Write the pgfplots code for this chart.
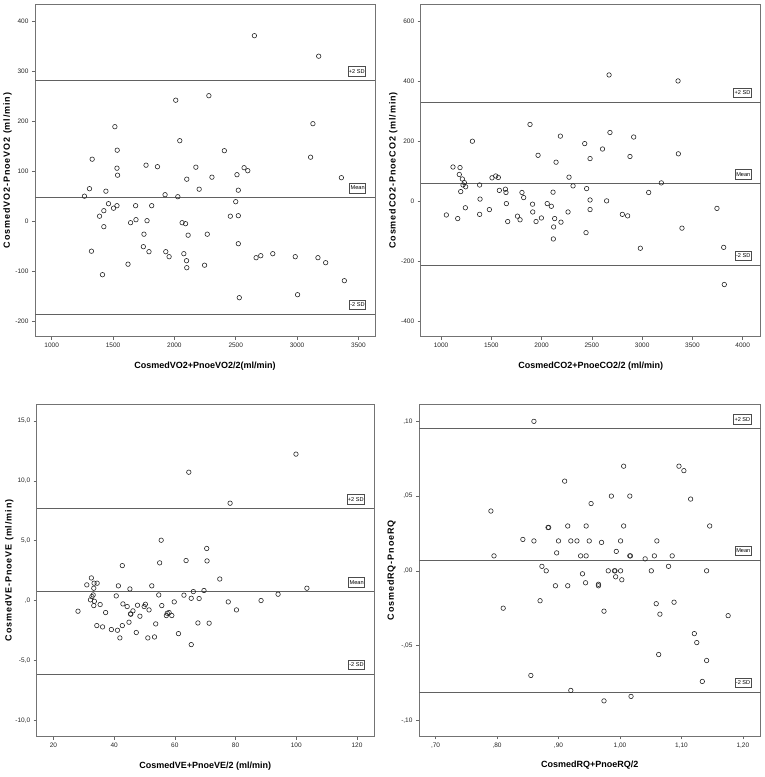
\documentclass[border=0pt]{standalone}
\usepackage{fontspec}
\setmainfont{Liberation Sans}
\newfontfamily\labfont[LetterSpace=10]{Liberation Sans}
\usepackage{pgfplots}
\pgfplotsset{compat=1.18}
\pgfplotsset{
  ba/.style={scale only axis, width=340pt, height=332.5pt,
    axis line style={draw=black!55, line width=0.7pt},
    tick align=outside, major tick length=3pt,
    xtick pos=bottom, ytick pos=left,
    tick style={draw=black!60, line width=0.5pt},
    ticklabel style={font=\fontsize{6.5}{7}\selectfont, text=black!85},
    xlabel style={font=\bfseries\fontsize{9}{10}\selectfont, at={(axis description cs:0.5,0)}, anchor=center, yshift=-29pt},
    ylabel style={font=\labfont\bfseries\fontsize{9}{10}\selectfont, at={(axis description cs:0,0.5)}, anchor=center, yshift=27.5pt},
  },
  sdline/.style={draw=black!62, line width=0.8pt, no marks, forget plot},
  pts/.style={only marks, mark=o, mark size=2.25pt, mark options={line width=0.6pt, draw=black!85}},
}
\tikzset{
  sdbox/.style={draw=black!70, fill=white, line width=0.4pt, inner xsep=1pt, inner ysep=0.5pt, minimum height=9.5pt,
    font=\fontsize{5.6}{6}\selectfont, anchor=south east, yshift=4.5pt},
}
\begin{document}
\begin{tikzpicture}
\useasboundingbox (0,0) rectangle (765pt,777pt);
% Panel 1
\begin{axis}[ba, at={(35pt,440.3pt)}, anchor=south west,
  xmin=864, xmax=3635, ymin=-231, ymax=434,
  xtick={1000,1500,2000,2500,3000,3500}, xticklabels={1000,1500,2000,2500,3000,3500},
  ytick={-200,-100,0,100,200,300,400}, yticklabels={-200,-100,0,100,200,300,400},
  xlabel={CosmedVO2+PnoeVO2/2(ml/min)}, ylabel={CosmedVO2-PnoeVO2 (ml/min)}]
\addplot[sdline] coordinates {(864,281) (3635,281)};
\addplot[sdline] coordinates {(864,47.5) (3635,47.5)};
\addplot[sdline] coordinates {(864,-186) (3635,-186)};
\addplot[pts] coordinates {
(2652,371) (3176,330) (2011,242) (2281,251) (1515,189) (3129,195) (1534,142) (2044,161)
(2407,141) (1330,124) (1769,112) (1862,109) (1532,106) (1537,92) (2175,108) (2101,84)
(2306,88) (2510,93) (2568,107) (2598,101) (3110,128) (3361,87) (1308,65) (1442,60)
(2202,64) (2521,62) (1267,50) (1924,53) (2028,49) (2500,39) (1463,35) (1532,31)
(1425,21) (1390,10) (1504,26) (1425,-11) (1684,31) (1643,-3) (1687,3) (1815,31)
(1777,1) (1752,-26) (1747,-51) (1793,-61) (1324,-60) (1622,-86) (1414,-107) (2063,-3)
(2091,-5) (2112,-28) (2077,-65) (1957,-71) (1930,-61) (2099,-79) (2101,-93) (2246,-88)
(2268,-26) (2456,10) (2521,11) (2521,-45) (2529,-153) (2666,-73) (2704,-69) (2802,-65)
(2985,-71) (3004,-147) (3170,-73) (3233,-83) (3385,-119)};
\node[sdbox] at ({rel axis cs:0.973,0}|-{axis cs:0,281}) {+2 SD};
\node[sdbox] at ({rel axis cs:0.973,0}|-{axis cs:0,47.5}) {Mean};
\node[sdbox] at ({rel axis cs:0.973,0}|-{axis cs:0,-186}) {-2 SD};
\end{axis}
% Panel 2
\begin{axis}[ba, at={(420.7pt,440.3pt)}, anchor=south west,
  xmin=798, xmax=4179, ymin=-452, ymax=657,
  xtick={1000,1500,2000,2500,3000,3500,4000}, xticklabels={1000,1500,2000,2500,3000,3500,4000},
  ytick={-400,-200,0,200,400,600}, yticklabels={-400,-200,0,200,400,600},
  xlabel={CosmedCO2+PnoeCO2/2 (ml/min)}, ylabel={CosmedCO2-PnoeCO2 (ml/min)}]
\addplot[sdline] coordinates {(798,330) (4179,330)};
\addplot[sdline] coordinates {(798,58.5) (4179,58.5)};
\addplot[sdline] coordinates {(798,-213) (4179,-213)};
\addplot[pts] coordinates {
(1053,-46) (1119,114) (1166,-58) (1189,112) (1182,89) (1212,74) (1232,62) (1219,54)
(1245,48) (1196,32) (1242,-22) (1312,200) (1384,54) (1384,-44) (1388,7) (1481,-28)
(1507,78) (1544,84) (1570,79) (1580,36) (1640,40) (1646,29) (1650,-8) (1663,-68)
(1760,-50) (1786,-62) (1805,29) (1822,12) (1885,256) (1910,-10) (1912,-36) (1945,-68)
(1965,153) (1998,-56) (2056,-8) (2097,-17) (2114,30) (2120,-86) (2117,-126) (2130,-58)
(2144,130) (2187,217) (2193,-70) (2263,-36) (2273,80) (2313,51) (2429,192) (2442,-105)
(2448,42) (2482,142) (2482,4) (2482,-28) (2606,174) (2647,1) (2671,421) (2680,229)
(2803,-44) (2856,-49) (2879,149) (2916,214) (2982,-157) (3065,29) (3191,61) (3357,401)
(3360,158) (3396,-90) (3744,-24) (3811,-154) (3817,-278)};
\node[sdbox] at ({rel axis cs:0.973,0}|-{axis cs:0,330}) {+2 SD};
\node[sdbox] at ({rel axis cs:0.973,0}|-{axis cs:0,58.5}) {Mean};
\node[sdbox] at ({rel axis cs:0.973,0}|-{axis cs:0,-213}) {-2 SD};
\end{axis}
% Panel 3
\begin{axis}[ba, at={(36.7pt,40.3pt)}, anchor=south west, width=337.3pt,
  xmin=14.5, xmax=125.6, ymin=-11.37, ymax=16.4,
  xtick={20,40,60,80,100,120}, xticklabels={20,40,60,80,100,120},
  ytick={-10,-5,0,5,10,15}, yticklabels={{-10,0},{-5,0},{,0},{5,0},{10,0},{15,0}},
  xlabel={CosmedVE+PnoeVE/2 (ml/min)}, ylabel={CosmedVE-PnoeVE (ml/min)}]
\addplot[sdline] coordinates {(14.5,7.66) (125.6,7.66)};
\addplot[sdline] coordinates {(14.5,0.75) (125.6,0.75)};
\addplot[sdline] coordinates {(14.5,-6.16) (125.6,-6.16)};
\addplot[pts] coordinates {
(99.9,12.23) (64.6,10.72) (78.2,8.13) (55.5,5.04) (70.5,4.35) (55.0,3.15) (63.7,3.34) (70.6,3.31)
(42.7,2.92) (74.8,1.80) (32.5,1.89) (31.0,1.31) (33.4,1.45) (34.4,1.45) (33.3,1.03) (33.1,0.47)
(32.7,0.33) (32.2,0.06) (33.5,-0.06) (33.3,-0.42) (35.4,-0.33) (28.1,-0.89) (37.2,-1.00) (41.4,1.23)
(45.2,0.97) (52.4,1.23) (40.7,0.39) (42.9,-0.28) (44.3,-0.50) (47.7,-0.39) (50.3,-0.31) (49.9,-0.50)
(46.2,-0.86) (45.4,-1.11) (45.5,-1.14) (48.5,-1.31) (51.5,-0.78) (54.7,0.47) (55.7,-0.42) (59.8,-0.11)
(57.2,-1.25) (58.1,-1.00) (59.0,-1.25) (57.5,-1.06) (63.0,0.45) (65.4,0.19) (66.1,0.75) (68.0,0.17)
(69.6,0.84) (77.6,-0.11) (80.3,-0.78) (88.4,0.00) (94.0,0.53) (103.5,1.03) (44.9,-1.81) (34.3,-2.09)
(36.2,-2.20) (39.1,-2.42) (41.1,-2.48) (42.7,-2.09) (47.3,-2.67) (41.9,-3.12) (51.1,-3.12) (53.3,-3.04)
(53.7,-1.95) (61.2,-2.76) (65.4,-3.68) (67.6,-1.87) (71.3,-1.89)};
\node[sdbox] at ({rel axis cs:0.973,0}|-{axis cs:0,7.66}) {+2 SD};
\node[sdbox] at ({rel axis cs:0.973,0}|-{axis cs:0,0.75}) {Mean};
\node[sdbox] at ({rel axis cs:0.973,0}|-{axis cs:0,-6.16}) {-2 SD};
\end{axis}
% Panel 4
\begin{axis}[ba, at={(419pt,40.7pt)}, anchor=south west, width=341.7pt, height=332pt,
  xmin=0.673, xmax=1.229, ymin=-0.1107, ymax=0.1114,
  xtick={0.7,0.8,0.9,1.0,1.1,1.2}, xticklabels={{,70},{,80},{,90},{1,00},{1,10},{1,20}},
  ytick={-0.1,-0.05,0,0.05,0.1}, yticklabels={{-,10},{-,05},{,00},{,05},{,10}},
  xlabel={CosmedRQ+PnoeRQ/2}, ylabel={CosmedRQ-PnoeRQ}]
\addplot[sdline] coordinates {(0.673,0.0951) (1.229,0.0951)};
\addplot[sdline] coordinates {(0.673,0.0071) (1.229,0.0071)};
\addplot[sdline] coordinates {(0.673,-0.081) (1.229,-0.081)};
\addplot[pts] coordinates {
(0.860,0.100) (0.790,0.040) (0.795,0.010) (0.842,0.021) (0.860,0.020) (0.883,0.029) (0.884,0.029) (0.897,0.012)
(0.900,0.020) (0.910,0.060) (0.915,0.030) (0.920,0.020) (0.930,0.020) (0.936,0.010) (0.945,0.010) (0.945,0.030)
(0.950,0.020) (0.953,0.045) (0.970,0.019) (0.986,0.050) (0.994,0.013) (1.001,0.020) (1.006,0.070) (1.006,0.030)
(1.016,0.050) (1.016,0.010) (1.017,0.010) (1.041,0.008) (1.056,0.010) (1.060,0.020) (1.085,0.010) (1.096,0.070)
(1.104,0.067) (1.115,0.048) (1.146,0.030) (0.873,0.003) (0.880,0.000) (0.939,-0.002) (0.981,0.000) (0.991,0.000)
(0.992,0.000) (1.001,0.000) (0.993,-0.004) (1.003,-0.006) (1.051,0.000) (1.079,0.003) (1.141,0.000) (0.944,-0.008)
(0.965,-0.009) (0.965,-0.010) (0.895,-0.010) (0.915,-0.010) (0.810,-0.025) (0.870,-0.020) (0.974,-0.027) (1.059,-0.022)
(1.088,-0.021) (1.065,-0.029) (1.176,-0.030) (1.121,-0.042) (1.125,-0.048) (1.063,-0.056) (1.141,-0.060) (0.855,-0.070)
(1.134,-0.074) (0.920,-0.080) (0.974,-0.087) (1.018,-0.084)};
\node[sdbox] at ({rel axis cs:0.973,0}|-{axis cs:0,0.0951}) {+2 SD};
\node[sdbox] at ({rel axis cs:0.973,0}|-{axis cs:0,0.0071}) {Mean};
\node[sdbox] at ({rel axis cs:0.973,0}|-{axis cs:0,-0.081}) {-2 SD};
\end{axis}
\end{tikzpicture}
\end{document}
